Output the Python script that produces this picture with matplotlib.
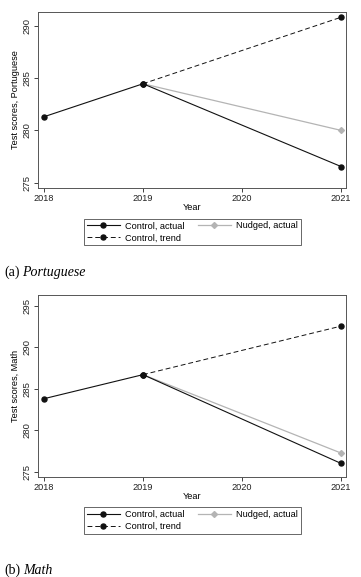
import matplotlib
matplotlib.use("Agg")
import matplotlib.pyplot as plt
from matplotlib.lines import Line2D

years = [2018, 2019, 2020, 2021]
actual_years = [2018, 2019, 2021]
trend_years = [2019, 2021]

port_control = [281.3, 284.45, 276.55]
port_nudged = [284.45, 280.0]
port_trend = [284.45, 290.8]

math_control = [283.8, 286.7, 276.0]
math_nudged = [286.7, 277.25]
math_trend = [286.7, 292.55]

port_yticks = [275, 280, 285, 290]
math_yticks = [275, 280, 285, 290, 295]

W, H = 361, 577
fig = plt.figure(figsize=(W / 100, H / 100), dpi=100)
plt.rcParams['font.family'] = ['Liberation Sans', 'DejaVu Sans']

dark = '#111111'
light = '#b4b4b4'
frame = '#555555'
fs = 6.6
renderer = fig.canvas.get_renderer()


def make_panel(rect, control, nudged, trend, yticks, ylim, ylabel, leg_y, caption, cap_y, cap_word):
    ax = fig.add_axes(rect)
    ax.plot(trend_years, trend, color=dark, lw=0.7, ls=(0, (5, 3)), marker='o', ms=3.6, zorder=3)
    ax.plot(trend_years, nudged, color=light, lw=0.9, marker='D', ms=3.0, zorder=2)
    ax.plot(actual_years, control, color=dark, lw=0.8, marker='o', ms=3.6, zorder=4)
    ax.set_xlim(2018 - 0.06, 2021 + 0.05)
    ax.set_ylim(*ylim)
    ax.set_xticks(years)
    ax.set_xticklabels([str(y) for y in years], fontsize=fs)
    ax.set_yticks(yticks)
    ax.set_yticklabels([str(t) for t in yticks], fontsize=6.8, rotation=90, va='center')
    ax.set_xlabel('Year', fontsize=fs, labelpad=0)
    ax.set_ylabel(ylabel, fontsize=fs, labelpad=2)
    ax.tick_params(length=3, width=0.6, pad=1.5, colors='#222222')
    for s in ax.spines.values():
        s.set_color(frame)
        s.set_linewidth(0.7)
    h1 = Line2D([], [], color=dark, lw=0.8, marker='o', ms=3.6)
    h2 = Line2D([], [], color=dark, lw=0.7, ls=(0, (5, 3)), marker='o', ms=3.6)
    h3 = Line2D([], [], color=light, lw=0.9, marker='D', ms=3.0)
    leg = fig.legend([h1, h2, h3], ['Control, actual', 'Control, trend', 'Nudged, actual'],
                     ncol=2, loc='center', bbox_to_anchor=(192.5 / W, 1 - leg_y / H),
                     fontsize=fs, frameon=True, fancybox=False, handlelength=3.6,
                     columnspacing=1.4, labelspacing=0.35, borderpad=0.3, handletextpad=0.6)
    leg.get_frame().set_edgecolor('#222222')
    leg.get_frame().set_linewidth(0.6)
    t = fig.text(4 / W, 1 - cap_y / H, '(' + caption + ')', fontsize=10,
                 family='Liberation Serif', va='center', ha='left')
    bb = t.get_window_extent(renderer=renderer)
    fig.text((bb.x1 + 3) / W, 1 - cap_y / H, cap_word, fontsize=10,
             family='Liberation Serif', style='italic', va='center', ha='left')
    return ax


make_panel([38 / W, 1 - 188 / H, 308 / W, 176 / H], port_control, port_nudged, port_trend,
           port_yticks, (274.5, 291.3), 'Test scores, Portuguese', 232, 'a', 272.5, 'Portuguese')
make_panel([38 / W, 1 - 476.7 / H, 308 / W, 181.7 / H], math_control, math_nudged, math_trend,
           math_yticks, (274.4, 296.3), 'Test scores, Math', 520.5, 'b', 570, 'Math')

fig.savefig('out.png', dpi=100)
